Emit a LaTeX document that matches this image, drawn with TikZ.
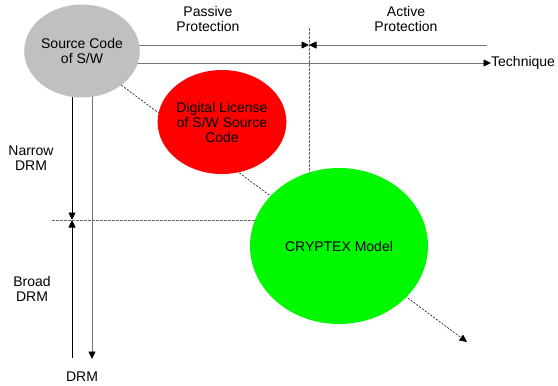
\documentclass[tikz,border=0pt]{standalone}
\usepackage{fontspec}
\setmainfont{Liberation Sans}
\usetikzlibrary{arrows.meta,shapes.geometric,backgrounds}
\definecolor{srcgray}{HTML}{C0C0C0}
\definecolor{lic}{HTML}{FF0000}
\definecolor{cry}{HTML}{00F800}
\begin{document}
\begin{tikzpicture}[x=1pt,y=-1pt,
  txt/.style={font=\fontsize{14}{14.5}\selectfont, align=center, inner sep=0pt},
  blob/.style={ellipse, draw=none, inner sep=0pt, font=\fontsize{14}{15}\selectfont, align=center},
  axis/.style={draw=black!55, line width=0.8pt},
  tip/.style={-{Triangle[length=7.5pt,width=7pt,color=black]}},
  guide/.style={draw=black!60, line width=0.8pt, dash pattern=on 2.5pt off 1.5pt},
  diag/.style={draw=black!85, line width=0.7pt, dash pattern=on 2pt off 1.5pt}]
\useasboundingbox (0,0) rectangle (558,386);

% ellipses
\node[blob, fill=srcgray, minimum width=97pt, minimum height=93pt] (src) at (82,51) {Source Code\\of S/W};
\node[blob, fill=lic, minimum width=118pt, minimum height=104pt] (lic) at (222,122) {Digital License\\of S/W Source\\Code};
\node[blob, fill=cry, minimum width=178pt, minimum height=156pt] (cry) at (339,246) {CRYPTEX Model};

% labels
\node[txt] (passive) at (208,19) {Passive\\Protection};
\node[txt] (active) at (406,19) {Active\\Protection};
\node[txt, anchor=west] (tech) at (491,63) {Technique};
\node[txt] (narrow) at (31,158) {Narrow\\DRM};
\node[txt] (broad) at (32,289) {Broad\\DRM};
\node[txt] (drm) at (82,377) {DRM};

% points used by the axes
\coordinate (pmark) at (309,45);
\coordinate (pend) at (487,45);
\coordinate (dtop) at (309,28);
\coordinate (nmark) at (72,220);
\coordinate (nend) at (72,358);
\coordinate (hleft) at (52,220);
\coordinate (dend) at (92,359);
\coordinate (diagend) at (467,342);

\begin{scope}[on background layer]
  % passive / active split on the technique side
  \draw[axis, tip] (src.center |- pmark) -- (pmark);
  \draw[axis, tip] (pend) -- (pmark);
  \draw[axis, tip] (src.center |- tech.west) -- (tech.west);
  \draw[guide] (dtop) -- (dtop |- cry.center);
  % narrow / broad split on the DRM side
  \draw[draw=black, line width=0.8pt, tip] (src.center -| nmark) -- (nmark);
  \draw[draw=black, line width=0.8pt, tip] (nend) -- (nmark);
  \draw[axis, tip] (src.center -| dend) -- (dend);
  \draw[guide] (hleft) -- (cry.center |- hleft);
  % evolution path
  \draw[diag, tip] (src.-41.6) -- (diagend);
\end{scope}
\end{tikzpicture}
\end{document}
